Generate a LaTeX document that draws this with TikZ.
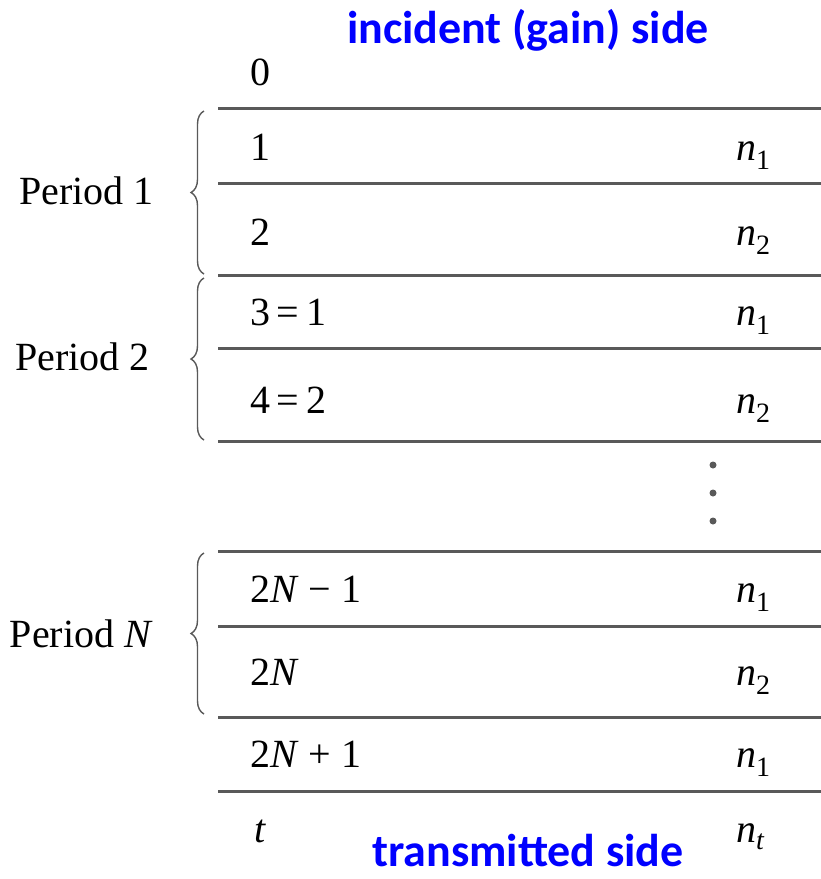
\documentclass[tikz,border=0pt]{standalone}
\usepackage{fontspec}
\setmainfont{Liberation Serif}
\newfontfamily\sidefont{Carlito}
\usetikzlibrary{decorations.pathreplacing}

\begin{document}
\begin{tikzpicture}[
    x=1pt,
    y=-1pt,
    layer/.style={
        anchor=base west,
        inner sep=0pt,
        font=\fontsize{40}{48}\selectfont
    },
    period/.style={
        anchor=base east,
        inner sep=0pt,
        font=\fontsize{40}{48}\selectfont
    },
    side/.style={
        anchor=base,
        inner sep=0pt,
        text=blue,
        font=\sidefont\bfseries\fontsize{46}{54}\selectfont
    },
    interface/.style={
        line width=3pt,
        draw=black!65
    },
    grp/.style={
        decorate,
        decoration={brace, amplitude=13pt},
        line width=1.4pt,
        draw=black!65
    }
]
\useasboundingbox (0,0) rectangle (821,879);

% Side labels
\node[side] (incident) at (528,43) {incident (gain) side};
\node[side] (transmitted) at (528,866) {transmitted side};

% Interfaces
\draw[interface] (218,108) -- (821,108);
\draw[interface] (218,183) -- (821,183);
\draw[interface] (218,275) -- (821,275);
\draw[interface] (218,348) -- (821,348);
\draw[interface] (218,441) -- (821,441);
\draw[interface] (218,551) -- (821,551);
\draw[interface] (218,626) -- (821,626);
\draw[interface] (218,717) -- (821,717);
\draw[interface] (218,791) -- (821,791);

% Layer numbers
\node[layer] (l0) at (250,85) {0};
\node[layer] (l1) at (250,160) {1};
\node[layer] (l2) at (250,245) {2};
\node[layer] (l3) at (250,325) {3\,=\,1};
\node[layer] (l4) at (250,413) {4\,=\,2};
\node[layer] (l5) at (250,602) {2\textit{N} − 1};
\node[layer] (l6) at (250,685) {2\textit{N}};
\node[layer] (l7) at (250,767) {2\textit{N} + 1};
\node[layer] (l8) at (254,842) {\textit{t}};

% Refractive indices
\node[layer] (n1a) at (736,160) {\textit{n}\textsubscript{1}};
\node[layer] (n2a) at (736,245) {\textit{n}\textsubscript{2}};
\node[layer] (n1b) at (736,325) {\textit{n}\textsubscript{1}};
\node[layer] (n2b) at (736,413) {\textit{n}\textsubscript{2}};
\node[layer] (n1c) at (736,602) {\textit{n}\textsubscript{1}};
\node[layer] (n2c) at (736,685) {\textit{n}\textsubscript{2}};
\node[layer] (n1d) at (736,767) {\textit{n}\textsubscript{1}};
\node[layer] (nt) at (736,842) {\textit{n}\textsubscript{\textit{t}}};

% Dots
\node[circle, fill=black!65, inner sep=0pt, minimum size=7pt] (d1) at (713,465) {};
\node[circle, fill=black!65, inner sep=0pt, minimum size=7pt] (d2) at (713,493) {};
\node[circle, fill=black!65, inner sep=0pt, minimum size=7pt] (d3) at (713,521) {};

% Periods
\draw[grp] (204,274) -- (204,111);
\draw[grp] (204,440) -- (204,278);
\draw[grp] (204,714) -- (204,553);
\node[period] (per1) at (154,204) {Period 1};
\node[period] (per2) at (150,370) {Period 2};
\node[period] (perN) at (153,647) {Period \textit{N}};

\end{tikzpicture}
\end{document}
